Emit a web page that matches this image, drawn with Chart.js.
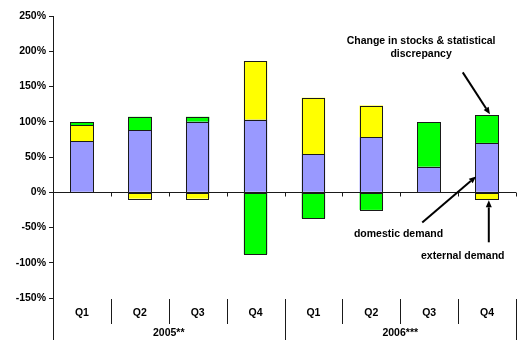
<!DOCTYPE html>
<html>
<head>
<meta charset="utf-8">
<style>
  html, body { margin: 0; padding: 0; background: #fff; }
  #wrap { width: 518px; height: 340px; }
</style>
<script src="https://cdn.jsdelivr.net/npm/chart.js@4/dist/chart.umd.min.js"></script>
</head>
<body>
<div id="wrap"><canvas id="c" width="518" height="340"></canvas></div>
<script>
// Contributions to growth, by quarter
const quarters = ['Q1', 'Q2', 'Q3', 'Q4', 'Q1', 'Q2', 'Q3', 'Q4'];
const years = ['2005**', '2006***'];
const quartersPerYear = 4;

const domesticDemand = [72, 88, 100, 103, 54, 78, 36, 70];
const externalDemand = [23, -9, -9, 83, 80, 45, null, -10];
const stockChange    = [4, 19, 7, -88, -37, -25, 63, 39];

const yMin = -150, yMax = 250, yStep = 50;

const FONT_FAMILY = '"Liberation Sans", Arial, Helvetica, sans-serif';
const FONT = 'bold 10.5px ' + FONT_FAMILY;
const LINE = '#1a1a1a';

// Callouts: text anchored in (category index, value) space, arrows end on the last bar
const last = quarters.length - 1;
const callouts = [
  {
    lines: ['Change in stocks & statistical', 'discrepancy'],
    at: [last - 1.14, 215], lineGap: 13.5,
    from: [last - 0.42, 170],
    to: () => [last + 0.05, domesticDemand[last] + stockChange[last] + 1.5]
  },
  {
    lines: ['domestic demand'],
    at: [last - 1.53, -59],
    from: [last - 1.12, -43],
    to: () => [last - 0.19, domesticDemand[last] * 0.32]
  },
  {
    lines: ['external demand'],
    at: [last - 0.42, -90],
    from: [last + 0.03, -71],
    to: () => [last + 0.03, externalDemand[last] - 1.5]
  }
];

function arrow(ctx, x1, y1, x2, y2) {
  const ang = Math.atan2(y2 - y1, x2 - x1);
  const len = 7, half = 3;
  const bx = x2 - len * Math.cos(ang), by = y2 - len * Math.sin(ang);
  ctx.beginPath();
  ctx.moveTo(x1, y1);
  ctx.lineTo(bx, by);
  ctx.lineWidth = 2;
  ctx.stroke();
  ctx.beginPath();
  ctx.moveTo(x2, y2);
  ctx.lineTo(bx + half * Math.sin(ang), by - half * Math.cos(ang));
  ctx.lineTo(bx - half * Math.sin(ang), by + half * Math.cos(ang));
  ctx.closePath();
  ctx.fill();
}

// Crisp 1px outlines around every bar segment, snapped to the pixel grid
const barOutlines = {
  id: 'barOutlines',
  afterDatasetsDraw(chart) {
    const ctx = chart.ctx;
    ctx.save();
    ctx.strokeStyle = LINE;
    ctx.lineWidth = 1;
    chart.data.datasets.forEach((ds, di) => {
      chart.getDatasetMeta(di).data.forEach((el, i) => {
        if (ds.data[i] === null || ds.data[i] === undefined) return;
        const { x, y, base, width } = el.getProps(['x', 'y', 'base', 'width'], true);
        const l = Math.round(x - width / 2) + 0.5;
        const r = Math.round(x + width / 2) - 0.5;
        const t = Math.round(Math.min(y, base)) + 0.5;
        const b = Math.round(Math.max(y, base)) + 0.5;
        ctx.strokeRect(l, t, r - l, b - t);
      });
    });
    ctx.restore();
  }
};

const decorations = {
  id: 'decorations',
  afterDatasetsDraw(chart) {
    const { ctx, chartArea: a, scales: { x, y } } = chart;
    const n = quarters.length;
    const step = x.getPixelForValue(1) - x.getPixelForValue(0);
    const edge = i => x.getPixelForValue(i) - step / 2;
    const y0 = Math.round(y.getPixelForValue(0)) + 0.5;
    const H = chart.height;

    ctx.save();
    ctx.strokeStyle = LINE;
    ctx.fillStyle = '#000';
    ctx.lineWidth = 1;

    // zero line with category ticks
    ctx.beginPath();
    ctx.moveTo(a.left, y0);
    ctx.lineTo(a.right, y0);
    for (let i = 1; i <= n; i++) {
      const px = Math.round(edge(i)) + 0.5;
      ctx.moveTo(px, y0);
      ctx.lineTo(px, y0 + 4);
    }
    ctx.stroke();

    // value axis continues through the label rows
    const axX = Math.round(a.left) + 0.5;
    ctx.beginPath();
    ctx.moveTo(axX, a.bottom);
    ctx.lineTo(axX, H);
    ctx.stroke();

    // label row separators: short between quarters, long between years
    const rowTop = a.bottom + 1;
    ctx.beginPath();
    for (let i = 1; i <= n; i++) {
      const px = Math.round(edge(i)) + 0.5;
      const yearEdge = i % quartersPerYear === 0;
      ctx.moveTo(px, rowTop);
      ctx.lineTo(px, yearEdge ? H : rowTop + 25);
    }
    ctx.stroke();

    // quarter and year labels
    ctx.font = FONT;
    ctx.textAlign = 'center';
    ctx.textBaseline = 'middle';
    quarters.forEach((q, i) => ctx.fillText(q, x.getPixelForValue(i), a.bottom + 15));
    years.forEach((yr, k) => {
      const cx = (edge(k * quartersPerYear) + edge((k + 1) * quartersPerYear)) / 2;
      ctx.fillText(yr, cx, a.bottom + 35);
    });

    // callouts
    const px = p => [x.getPixelForValue(p[0]), y.getPixelForValue(p[1])];
    callouts.forEach(c => {
      const [tx, ty] = px(c.at);
      c.lines.forEach((t, j) => ctx.fillText(t, tx, ty + j * (c.lineGap || 0)));
      const [fx, fy] = px(c.from);
      const [ex, ey] = px(c.to());
      ctx.strokeStyle = '#000';
      arrow(ctx, fx, fy, ex, ey);
    });
    ctx.restore();
  }
};

const common = { borderWidth: 0, barPercentage: 0.405, categoryPercentage: 1.0 };

new Chart(document.getElementById('c'), {
  type: 'bar',
  data: {
    labels: quarters,
    datasets: [
      Object.assign({ label: 'domestic demand', data: domesticDemand, backgroundColor: '#9999FF' }, common),
      Object.assign({ label: 'external demand', data: externalDemand, backgroundColor: '#FFFF00' }, common),
      Object.assign({ label: 'Change in stocks & statistical discrepancy', data: stockChange, backgroundColor: '#00FF00' }, common)
    ]
  },
  options: {
    responsive: false,
    animation: false,
    layout: { padding: { top: 16, right: 2, bottom: 42, left: 0 } },
    plugins: { legend: { display: false }, tooltip: { enabled: false } },
    scales: {
      x: { stacked: true, display: false },
      y: {
        stacked: true,
        min: yMin, max: yMax,
        afterFit: s => { s.width = 53; },
        ticks: {
          stepSize: yStep,
          color: '#000',
          font: { family: FONT_FAMILY, size: 10.5, weight: 'bold' },
          padding: 3,
          callback: v => v + '%'
        },
        grid: { drawOnChartArea: false, drawTicks: true, tickLength: 4, color: LINE },
        border: { display: true, color: LINE }
      }
    }
  },
  plugins: [barOutlines, decorations]
});
</script>
</body>
</html>
